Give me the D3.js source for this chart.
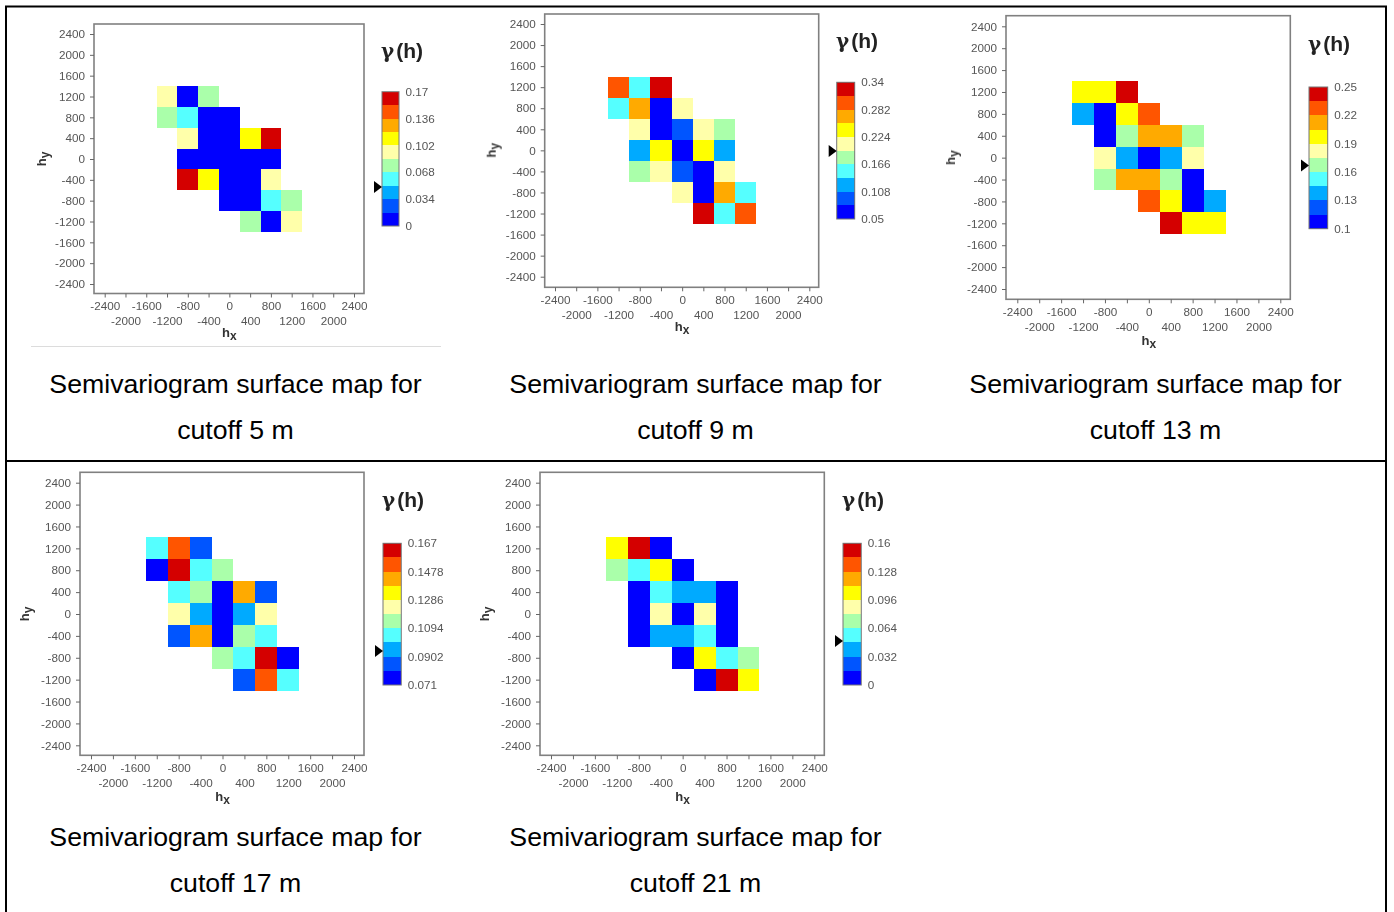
<!DOCTYPE html>
<html lang="en">
<head>
    <meta charset="UTF-8">
    <title>Semivariogram surface maps</title>
    <script src="https://d3js.org/d3.v7.min.js"></script>
    <style>
        html, body { margin: 0; padding: 0; background: #fff; overflow: hidden; }
        svg { display: block; }
        text { font-family: "Liberation Sans", Arial, sans-serif; }
        .tick-text { font-size: 11.7px; fill: #555; filter: url(#soft); }
        .axis-name { font-size: 13px; fill: #333; font-weight: bold; filter: url(#soft); }
        .legend-title { font-size: 21px; fill: #222; font-weight: bold; filter: url(#soft); }
        .caption { font-size: 26.7px; fill: #000; text-anchor: middle; }
        .cell, .swatch { shape-rendering: crispEdges; }
    </style>
</head>
<body>
    <svg id="chart" width="1394" height="912"></svg>

    <script>
        // cell centres of the lag grid
        const cellX = [-1200, -800, -400, 0, 400, 800, 1200];
        const cellY = [1200, 800, 400, 0, -400, -800, -1200];
        const axisTicks = [-2400, -2000, -1600, -1200, -800, -400, 0, 400, 800, 1200, 1600, 2000, 2400];
        const classColors = ["#0000ff", "#0055ff", "#00aaff", "#55ffff", "#aaffaa", "#ffffaa", "#ffff00", "#ffaa00", "#ff5500", "#d40000"];

        const gamma5 = [
            [0.094, 0.009, 0.077, null, null, null, null],
            [0.077, 0.06, 0.009, 0.009, null, null, null],
            [null, 0.094, 0.009, 0.009, 0.111, 0.162, null],
            [null, 0.009, 0.009, 0.009, 0.009, 0.009, null],
            [null, 0.162, 0.111, 0.009, 0.009, 0.094, null],
            [null, null, null, 0.009, 0.009, 0.06, 0.077],
            [null, null, null, null, 0.077, 0.009, 0.094]
        ];
        const gamma9 = [
            [0.297, 0.152, 0.326, null, null, null, null],
            [0.152, 0.268, 0.065, 0.21, null, null, null],
            [null, 0.21, 0.065, 0.094, 0.21, 0.181, null],
            [null, 0.123, 0.239, 0.065, 0.239, 0.123, null],
            [null, 0.181, 0.21, 0.094, 0.065, 0.21, null],
            [null, null, null, 0.21, 0.065, 0.268, 0.152],
            [null, null, null, null, 0.326, 0.152, 0.297]
        ];
        const gamma13 = [
            [0.198, 0.198, 0.243, null, null, null, null],
            [0.138, 0.108, 0.198, 0.228, null, null, null],
            [null, 0.108, 0.168, 0.213, 0.213, 0.168, null],
            [null, 0.183, 0.138, 0.108, 0.138, 0.183, null],
            [null, 0.168, 0.213, 0.213, 0.168, 0.108, null],
            [null, null, null, 0.228, 0.198, 0.108, 0.138],
            [null, null, null, null, 0.243, 0.198, 0.198]
        ];
        const gamma17 = [
            [0.105, 0.153, 0.086, null, null, null, null],
            [0.076, 0.162, 0.105, 0.114, null, null, null],
            [null, 0.105, 0.114, 0.076, 0.143, 0.086, null],
            [null, 0.124, 0.095, 0.076, 0.095, 0.124, null],
            [null, 0.086, 0.143, 0.076, 0.114, 0.105, null],
            [null, null, null, 0.114, 0.105, 0.162, 0.076],
            [null, null, null, null, 0.086, 0.153, 0.105]
        ];
        const gamma21 = [
            [0.104, 0.152, 0.008, null, null, null, null],
            [0.072, 0.056, 0.104, 0.008, null, null, null],
            [null, 0.008, 0.056, 0.04, 0.04, 0.008, null],
            [null, 0.008, 0.088, 0.008, 0.088, 0.008, null],
            [null, 0.008, 0.04, 0.04, 0.056, 0.008, null],
            [null, null, null, 0.008, 0.104, 0.056, 0.072],
            [null, null, null, null, 0.008, 0.152, 0.104]
        ];

        const legend5 = ["0.17", "0.136", "0.102", "0.068", "0.034", "0"];
        const legend9 = ["0.34", "0.282", "0.224", "0.166", "0.108", "0.05"];
        const legend13 = ["0.25", "0.22", "0.19", "0.16", "0.13", "0.1"];
        const legend17 = ["0.167", "0.1478", "0.1286", "0.1094", "0.0902", "0.071"];
        const legend21 = ["0.16", "0.128", "0.096", "0.064", "0.032", "0"];

        const captions = ["cutoff 5 m", "cutoff 9 m", "cutoff 13 m", "cutoff 17 m", "cutoff 21 m"];

        // where each map sits on the page
        const panels = [
            {grid: gamma5, legend: legend5, min: 0, max: 0.17, marker: 0.0494, caption: captions[0], capX: 235.5, capY: 392.5,
             frame: [94, 364, 24, 293.5], xr: [104.7, 354], yr: [34, 284], bar: [382, 399, 91.7, 226], titleX: 381, titleY: 58, hxGap: 43, hyGap: 48},
            {grid: gamma9, legend: legend9, min: 0.05, max: 0.34, marker: 0.194, caption: captions[1], capX: 695.5, capY: 392.5,
             frame: [544.7, 818.7, 14, 287.3], xr: [555, 809.3], yr: [24, 276.7], bar: [836.7, 854.7, 82.3, 219], titleX: 836, titleY: 48, hxGap: 44, hyGap: 49},
            {grid: gamma13, legend: legend13, min: 0.1, max: 0.25, marker: 0.167, caption: captions[2], capX: 1155.5, capY: 392.5,
             frame: [1006, 1290.3, 15.7, 299.3], xr: [1017.3, 1280.3], yr: [26.3, 289], bar: [1309, 1327.7, 87, 228.7], titleX: 1308, titleY: 51, hxGap: 46, hyGap: 51},
            {grid: gamma17, legend: legend17, min: 0.071, max: 0.167, marker: 0.094, caption: captions[3], capX: 235.5, capY: 845.5,
             frame: [80, 364, 472.3, 755.3], xr: [91, 354], yr: [482.7, 745.3], bar: [383, 401.3, 543.3, 685], titleX: 382, titleY: 507, hxGap: 46, hyGap: 51},
            {grid: gamma21, legend: legend21, min: 0, max: 0.16, marker: 0.0497, caption: captions[4], capX: 695.5, capY: 845.5,
             frame: [540, 824.3, 472.3, 755.3], xr: [551, 814.3], yr: [482.7, 745.3], bar: [843, 861.3, 543.3, 685], titleX: 842, titleY: 507, hxGap: 46, hyGap: 51}
        ];

        const svg = d3.select("#chart");

        // the source is a scaled screenshot, its small text is slightly soft
        svg.append("defs").append("filter").attr("id", "soft")
            .attr("x", "-10%").attr("y", "-10%").attr("width", "120%").attr("height", "120%")
            .append("feGaussianBlur").attr("stdDeviation", 0.35);

        // table rules around the figures
        const rules = svg.append("g").attr("stroke", "#000").attr("stroke-width", 2);
        rules.append("line").attr("x1", 5).attr("x2", 1387).attr("y1", 6.5).attr("y2", 6.5);
        rules.append("line").attr("x1", 5).attr("x2", 1387).attr("y1", 461).attr("y2", 461);
        rules.append("line").attr("x1", 6).attr("x2", 6).attr("y1", 6).attr("y2", 912);
        rules.append("line").attr("x1", 1386).attr("x2", 1386).attr("y1", 6).attr("y2", 912);
        svg.append("line").attr("x1", 31).attr("x2", 441).attr("y1", 346.5).attr("y2", 346.5)
            .attr("stroke", "#dcdcdc");

        panels.forEach(drawPanel);

        function drawPanel(p) {
            const g = svg.append("g");
            const [left, right, top, bottom] = p.frame;

            const x = d3.scaleLinear().domain([-2400, 2400]).range(p.xr);
            const y = d3.scaleLinear().domain([2400, -2400]).range(p.yr);
            const color = d3.scaleQuantize().domain([p.min, p.max]).range(classColors);

            // cells
            const half = 200;
            const cells = [];
            p.grid.forEach((row, r) => row.forEach((v, c) => {
                if (v !== null) cells.push({hx: cellX[c], hy: cellY[r], v: v});
            }));
            g.selectAll(".cell").data(cells).join("rect")
                .attr("class", "cell")
                .attr("x", d => x(d.hx - half))
                .attr("y", d => y(d.hy + half))
                .attr("width", d => x(d.hx + half) - x(d.hx - half))
                .attr("height", d => y(d.hy - half) - y(d.hy + half))
                .attr("fill", d => color(d.v));

            g.append("rect")
                .attr("x", left).attr("y", top)
                .attr("width", right - left).attr("height", bottom - top)
                .attr("fill", "none").attr("stroke", "#808080").attr("stroke-width", 1.6);

            // axes, x labels staggered on two rows
            const xAxis = g.append("g")
                .attr("transform", `translate(0,${bottom})`)
                .call(d3.axisBottom(x).tickValues(axisTicks).tickSize(4).tickFormat(String));
            xAxis.select(".domain").remove();
            xAxis.selectAll(".tick line").attr("stroke", "#666");
            xAxis.selectAll(".tick text")
                .attr("class", "tick-text")
                .attr("dy", null)
                .attr("y", (d, i) => i % 2 === 0 ? 16.5 : 31.5);

            const yAxis = g.append("g")
                .attr("transform", `translate(${left},0)`)
                .call(d3.axisLeft(y).tickValues(axisTicks).tickSize(4).tickPadding(5).tickFormat(String));
            yAxis.select(".domain").remove();
            yAxis.selectAll(".tick line").attr("stroke", "#666");
            yAxis.selectAll(".tick text").attr("class", "tick-text");

            const hx = g.append("text").attr("class", "axis-name")
                .attr("x", x(0)).attr("y", bottom + p.hxGap).attr("text-anchor", "middle");
            hx.append("tspan").text("h");
            hx.append("tspan").attr("dy", 3).attr("font-size", 12).text("x");

            const hy = g.append("text").attr("class", "axis-name")
                .attr("text-anchor", "middle")
                .attr("transform", `translate(${left - p.hyGap},${y(0)}) rotate(-90)`);
            hy.append("tspan").text("h");
            hy.append("tspan").attr("dy", 3).attr("font-size", 12).text("y");

            // colour legend
            const [barL, barR, barT, barB] = p.bar;
            const legendY = d3.scaleLinear().domain([p.min, p.max]).range([barB, barT]);
            const step = (p.max - p.min) / classColors.length;
            g.selectAll(".swatch").data(classColors).join("rect")
                .attr("class", "swatch")
                .attr("x", barL)
                .attr("width", barR - barL)
                .attr("y", (d, i) => legendY(p.min + (i + 1) * step))
                .attr("height", (d, i) => legendY(p.min + i * step) - legendY(p.min + (i + 1) * step))
                .attr("fill", d => d);
            g.append("rect")
                .attr("x", barL).attr("y", barT)
                .attr("width", barR - barL).attr("height", barB - barT)
                .attr("fill", "none").attr("stroke", "#777").attr("stroke-width", 1);

            const labelY = d3.scaleLinear().domain([0, p.legend.length - 1]).range([barT, barB]);
            g.selectAll(".legend-label").data(p.legend).join("text")
                .attr("class", "legend-label tick-text")
                .attr("x", barR + 6.5)
                .attr("y", (d, i) => labelY(i))
                .attr("dy", "0.35em")
                .text(d => d);

            const title = g.append("text").attr("class", "legend-title")
                .attr("x", p.titleX).attr("y", p.titleY);
            title.append("tspan").attr("font-family", "DejaVu Serif").attr("font-size", 20).text("γ");
            title.append("tspan").attr("dx", 2).text("(h)");

            const my = legendY(p.marker);
            g.append("path")
                .attr("d", d3.line()([[barL - 8, my - 6], [barL, my], [barL - 8, my + 6]]) + "Z")
                .attr("fill", "#000");

            // caption under the map
            g.append("text").attr("class", "caption")
                .attr("x", p.capX).attr("y", p.capY).text("Semivariogram surface map for");
            g.append("text").attr("class", "caption")
                .attr("x", p.capX).attr("y", p.capY + 46).text(p.caption);
        }
    </script>
</body>
</html>
